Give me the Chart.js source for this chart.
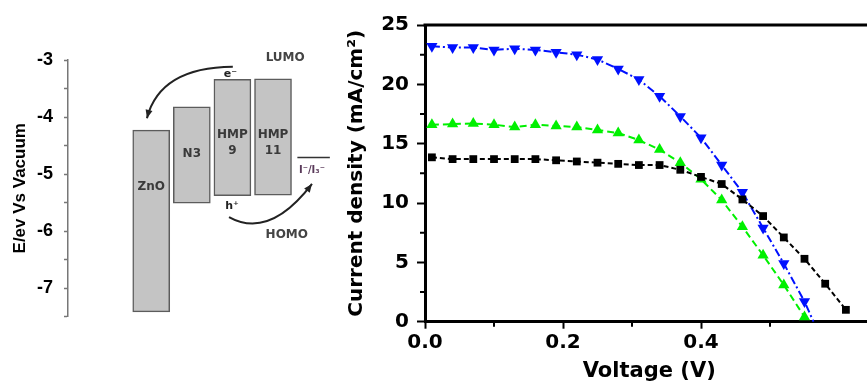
<!DOCTYPE html>
<html>
<head>
<meta charset="utf-8">
<script src="https://cdn.jsdelivr.net/npm/chart.js@4"></script>
<style>
  body { margin: 0; background: #fff; }
  #wrap { position: relative; width: 867px; height: 385px; overflow: hidden; background: #fff; }
  canvas { position: absolute; top: 0; }
</style>
</head>
<body>
<div id="wrap">
  <canvas id="levels" width="340" height="385" style="left:0"></canvas>
  <canvas id="jv" width="540" height="385" style="left:340px"></canvas>
</div>
<script>
// energy levels (eV vs vacuum)
const materials = ['ZnO', 'N3', 'HMP 9', 'HMP 11'];
const lumo = [-4.23, -3.82, -3.34, -3.33];
const homo = [-7.42, -5.51, -5.38, -5.37];
const redoxName = 'I⁻/I₃⁻';
const redoxLevel = -4.71;

// J-V curves
const vBlack = [0.01, 0.04, 0.07, 0.10, 0.13, 0.16, 0.19, 0.22, 0.25, 0.28, 0.31, 0.34, 0.37, 0.40, 0.43, 0.46, 0.49, 0.52, 0.55, 0.58, 0.61];
const jBlack = [13.85, 13.7, 13.7, 13.7, 13.7, 13.7, 13.6, 13.5, 13.4, 13.3, 13.2, 13.2, 12.8, 12.2, 11.6, 10.3, 8.9, 7.1, 5.3, 3.2, 1.0];
const vGreen = [0.01, 0.04, 0.07, 0.10, 0.13, 0.16, 0.19, 0.22, 0.25, 0.28, 0.31, 0.34, 0.37, 0.40, 0.43, 0.46, 0.49, 0.52, 0.55];
const jGreen = [16.6, 16.65, 16.7, 16.6, 16.4, 16.6, 16.5, 16.4, 16.15, 15.9, 15.3, 14.5, 13.4, 12.0, 10.25, 8.0, 5.6, 3.1, 0.4];
const vBlue = [0.01, 0.04, 0.07, 0.10, 0.13, 0.16, 0.19, 0.22, 0.25, 0.28, 0.31, 0.34, 0.37, 0.40, 0.43, 0.46, 0.49, 0.52, 0.55, 0.563];
const jBlue = [23.2, 23.1, 23.1, 22.9, 23.0, 22.9, 22.7, 22.5, 22.1, 21.3, 20.4, 19.0, 17.3, 15.5, 13.2, 10.9, 7.9, 4.9, 1.7, 0];

const xTickLabels = ['0.0', '0.2', '0.4', '0.6'];

const pts = (xs, ys) => xs.map((x, i) => ({ x: x, y: ys[i] }));

// ---------- left: energy diagram ----------
function arrow(ctx, p0, c, p2) {
  ctx.beginPath();
  ctx.moveTo(p0[0], p0[1]);
  ctx.quadraticCurveTo(c[0], c[1], p2[0], p2[1]);
  ctx.stroke();
  const ang = Math.atan2(p2[1] - c[1], p2[0] - c[0]);
  ctx.beginPath();
  ctx.moveTo(p2[0], p2[1]);
  ctx.lineTo(p2[0] - 9 * Math.cos(ang - 0.4), p2[1] - 9 * Math.sin(ang - 0.4));
  ctx.lineTo(p2[0] - 9 * Math.cos(ang + 0.4), p2[1] - 9 * Math.sin(ang + 0.4));
  ctx.closePath();
  ctx.fill();
}

const diagramNotes = {
  id: 'diagramNotes',
  afterDatasetsDraw(chart) {
    const { ctx } = chart;
    const x = chart.scales.x, y = chart.scales.y;
    const P = (a, b) => [x.getPixelForValue(a), y.getPixelForValue(b)];
    ctx.save();
    ctx.textAlign = 'center';
    ctx.textBaseline = 'middle';
    ctx.fillStyle = '#3a3a3a';
    ctx.font = 'bold 12px "DejaVu Sans"';
    const labelY = [-5.22, -4.65, -4.46, -4.46];
    materials.forEach((m, i) => {
      const parts = m.split(' ');
      const [cx, cy] = P(i + 1, labelY[i]);
      parts.forEach((t, k) => ctx.fillText(t, cx, cy + (k - (parts.length - 1) / 2) * 16));
    });
    ctx.fillStyle = '#444';
    let p = P(4.3, -2.96); ctx.fillText('LUMO', p[0], p[1]);
    p = P(4.34, -6.07); ctx.fillText('HOMO', p[0], p[1]);
    ctx.fillStyle = '#5a3a5a';
    ctx.font = 'bold 10px "DejaVu Sans"';
    p = P(4.96, -4.94); ctx.fillText(redoxName, p[0], p[1]);
    ctx.fillStyle = '#222';
    ctx.font = 'bold 11px "DejaVu Sans"';
    p = P(2.95, -3.25); ctx.fillText('e⁻', p[0], p[1]);
    p = P(2.99, -5.56); ctx.fillText('h⁺', p[0], p[1]);
    ctx.strokeStyle = '#222';
    ctx.fillStyle = '#222';
    ctx.lineWidth = 2;
    arrow(ctx, P(3.01, -3.12), P(1.22, -3.13), P(0.895, -4.02));
    arrow(ctx, P(2.916, -5.755), P(3.913, -6.15), P(4.96, -5.175));
    ctx.restore();
  }
};

new Chart(document.getElementById('levels'), {
  type: 'bar',
  data: {
    datasets: [
      {
        data: materials.map((m, i) => ({ x: i + 1, y: [homo[i], lumo[i]] })),
        backgroundColor: '#c4c4c4',
        borderColor: '#5c5c5c',
        borderWidth: 1.5,
        borderSkipped: false,
        barThickness: 37
      },
      {
        type: 'line',
        data: [{ x: 4.6, y: redoxLevel }, { x: 5.4, y: redoxLevel }],
        borderColor: '#333',
        borderWidth: 1.5,
        pointRadius: 0
      }
    ]
  },
  options: {
    responsive: false,
    devicePixelRatio: 1,
    animation: false,
    layout: { padding: { top: 60, bottom: 68.5, left: 0, right: 0 } },
    plugins: { legend: { display: false }, tooltip: { enabled: false } },
    scales: {
      x: { type: 'linear', min: -1.05, max: 5.65, offset: false, display: false },
      y: {
        min: -7.5, max: -3,
        afterFit: s => { s.width = 68; },
        ticks: {
          stepSize: 0.5, autoSkip: false, padding: 11, color: '#000',
          font: { family: '"Liberation Sans"', size: 18, weight: 'bold' },
          callback: v => Number.isInteger(v) ? String(v) : ''
        },
        grid: { drawOnChartArea: false, tickLength: 4, tickColor: '#777', tickWidth: 1.5 },
        border: { color: '#777', width: 1.5 },
        title: {
          display: true, text: 'E/ev Vs Vacuum', color: '#000',
          font: { family: '"Liberation Sans"', size: 17, weight: 'bold' },
          padding: { top: 10, bottom: 0 }
        }
      }
    }
  },
  plugins: [diagramNotes]
});

// ---------- right: J-V curves ----------
// top frame line + short minor ticks
const frameAndMinor = {
  id: 'frameAndMinor',
  afterDraw(chart) {
    const { ctx, chartArea: a } = chart;
    ctx.save();
    ctx.strokeStyle = '#000';
    ctx.lineWidth = 3;
    ctx.beginPath();
    ctx.moveTo(a.left - 1.5, a.top);
    ctx.lineTo(a.right, a.top);
    ctx.stroke();
    ctx.lineWidth = 2;
    ctx.beginPath();
    chart.scales.x.ticks.forEach(t => {
      if (t.label !== '') return;
      const px = chart.scales.x.getPixelForValue(t.value);
      ctx.moveTo(px, a.bottom);
      ctx.lineTo(px, a.bottom + 5);
    });
    chart.scales.y.ticks.forEach(t => {
      if (t.label !== '') return;
      const py = chart.scales.y.getPixelForValue(t.value);
      ctx.moveTo(a.left, py);
      ctx.lineTo(a.left - 5, py);
    });
    ctx.stroke();
    ctx.restore();
  }
};

const tickFont = { family: '"DejaVu Sans"', size: 20, weight: 'bold' };
const majorOnly = c => (c.tick && c.tick.label !== '') ? '#000' : 'rgba(0,0,0,0)';

new Chart(document.getElementById('jv'), {
  type: 'line',
  data: {
    datasets: [
      {
        data: pts(vBlack, jBlack),
        borderColor: '#000', backgroundColor: '#000',
        borderWidth: 2, borderDash: [5, 3],
        pointStyle: 'rect', pointRadius: 5.5, pointBorderWidth: 0,
        clip: false
      },
      {
        data: pts(vGreen, jGreen),
        borderColor: '#00f000', backgroundColor: '#00f000',
        borderWidth: 2, borderDash: [7, 4],
        pointStyle: 'triangle', pointRadius: 6.5, pointBorderWidth: 0,
        clip: false
      },
      {
        data: pts(vBlue, jBlue),
        borderColor: '#0010ff', backgroundColor: '#0010ff',
        borderWidth: 2, borderDash: [8, 3, 2, 3],
        pointStyle: 'triangle', pointRotation: 180,
        pointRadius: ctx => ctx.dataIndex === jBlue.length - 1 ? 0 : 6.5,
        pointBorderWidth: 0,
        clip: false
      }
    ]
  },
  options: {
    responsive: false,
    devicePixelRatio: 1,
    animation: false,
    layout: { padding: { top: 25, right: 6.5, left: 0, bottom: 0 } },
    plugins: { legend: { display: false }, tooltip: { enabled: false } },
    scales: {
      x: {
        type: 'linear', min: 0, max: 0.65,
        afterFit: s => { s.height = 63.3; },
        ticks: {
          stepSize: 0.1, autoSkip: false, maxRotation: 0, padding: 2, color: '#000', font: tickFont,
          callback: v => {
            const k = v * 5;
            return Math.abs(k - Math.round(k)) < 1e-6 ? xTickLabels[Math.round(k)] : '';
          }
        },
        grid: { drawOnChartArea: false, tickLength: 7, tickColor: majorOnly, tickWidth: 2 },
        border: { color: '#000', width: 3 },
        title: {
          display: true, text: 'Voltage (V)', color: '#000',
          font: { family: '"DejaVu Sans"', size: 21, weight: 'bold' },
          padding: { top: 0, bottom: 1 }
        }
      },
      y: {
        min: 0, max: 25,
        afterFit: s => { s.width = 85; },
        ticks: {
          stepSize: 2.5, autoSkip: false, padding: 8, color: '#000', font: tickFont,
          callback: v => v % 5 === 0 ? String(v) : ''
        },
        grid: { drawOnChartArea: false, tickLength: 8, tickColor: majorOnly, tickWidth: 2 },
        border: { color: '#000', width: 3 },
        title: {
          display: true, text: 'Current density (mA/cm²)', color: '#000',
          font: { family: '"DejaVu Sans"', size: 20, weight: 'bold' },
          padding: { top: 5, bottom: 0 }
        }
      }
    }
  },
  plugins: [frameAndMinor]
});
</script>
</body>
</html>
